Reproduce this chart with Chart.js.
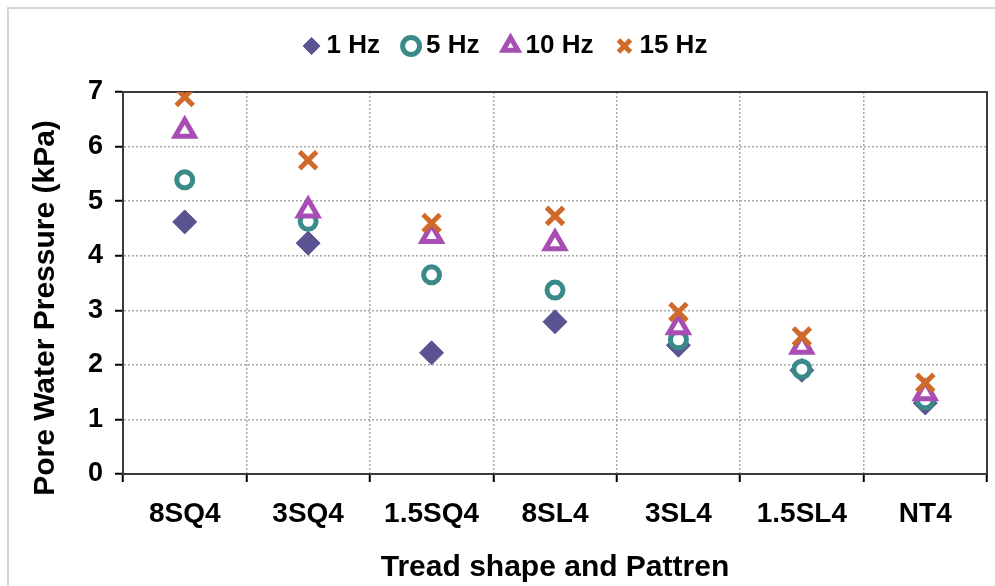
<!DOCTYPE html>
<html>
<head>
<meta charset="utf-8">
<title>Pore water pressure by tread pattern</title>
<script src="https://cdn.jsdelivr.net/npm/chart.js@4.4.0/dist/chart.umd.min.js"></script>
<style>
  html, body { margin: 0; padding: 0; background: #fff; }
  #wrap { position: relative; width: 995px; height: 586px; overflow: hidden; }
  #frame { position: absolute; left: 7px; top: 7px; width: 1000px; height: 600px;
           border-top: 2px solid #d6d6d6; border-left: 2px solid #d6d6d6; }
  canvas { position: absolute; left: 0; top: 0; }
</style>
</head>
<body>
<div id="wrap">
  <div id="frame"></div>
  <canvas id="pwpChart" width="995" height="586"></canvas>
</div>
<script>
// tread patterns along the x axis
var treads = ['8SQ4', '3SQ4', '1.5SQ4', '8SL4', '3SL4', '1.5SL4', 'NT4'];

// pore water pressure (kPa) per loading frequency
var pwp1Hz  = [4.62, 4.23, 2.22, 2.79, 2.36, 1.90, 1.30];
var pwp5Hz  = [5.39, 4.63, 3.65, 3.37, 2.46, 1.92, 1.36];
var pwp10Hz = [6.29, 4.83, 4.36, 4.23, 2.69, 2.33, 1.48];
var pwp15Hz = [6.91, 5.75, 4.60, 4.73, 2.97, 2.52, 1.67];

var yMin = 0, yMax = 7, yStep = 1;

var FONT = "'Liberation Sans', Arial, sans-serif";
Chart.defaults.font.family = FONT;
Chart.defaults.color = '#000';

// dark frame around the plot area
var plotFrame = {
    id: 'plotFrame',
    beforeDatasetsDraw: function (chart) {
        var a = chart.chartArea, ctx = chart.ctx;
        ctx.save();
        ctx.strokeStyle = '#3a3a3a';
        ctx.lineWidth = 2;
        ctx.strokeRect(a.left, a.top, a.right - a.left, a.bottom - a.top);
        ctx.restore();
    }
};

// leave a gap between the legend row and the plot
var legendGap = {
    id: 'legendGap',
    beforeLayout: function (chart) {
        var lg = chart.legend;
        if (lg && !lg._gapAdded) {
            var fit = lg.fit;
            lg.fit = function () {
                fit.call(this);
                this.height += 23;
            };
            lg._gapAdded = true;
        }
    }
};

function series(label, data, style, color, fill, radius, width, order) {
    return {
        label: label,
        data: data,
        showLine: false,
        pointStyle: style,
        pointRadius: radius,
        pointHoverRadius: radius,
        pointBorderWidth: width,
        borderWidth: width,
        borderColor: color,
        backgroundColor: fill,
        pointBackgroundColor: fill,
        pointBorderColor: color,
        order: order
    };
}

var ctx = document.getElementById('pwpChart');
var pwpChart = new Chart(ctx, {
    type: 'line',
    data: {
        labels: treads,
        datasets: [
            series('1 Hz', pwp1Hz, 'rectRot', '#5a5391', '#5a5391', 12, 1, 4),
            series('5 Hz', pwp5Hz, 'circle', '#3b8a8a', '#ffffff', 8, 5, 3),
            series('10 Hz', pwp10Hz, 'triangle', '#a84db4', '#ffffff', 11, 5, 2),
            series('15 Hz', pwp15Hz, 'crossRot', '#cf6a2a', '#cf6a2a', 12, 5, 1)
        ]
    },
    options: {
        responsive: false,
        animation: false,
        layout: { autoPadding: false, padding: { left: 30, right: 8, top: 4, bottom: 0 } },
        plugins: {
            tooltip: { enabled: false },
            legend: {
                position: 'top',
                labels: {
                    usePointStyle: true,
                    boxWidth: 4,
                    boxHeight: 12,
                    padding: 29,
                    color: '#000',
                    font: { size: 26, weight: 'bold', family: FONT },
                    sort: function (a, b) { return a.datasetIndex - b.datasetIndex; }
                }
            }
        },
        scales: {
            x: {
                type: 'category',
                offset: true,
                grid: {
                    offset: true,
                    color: '#a8a8a8',
                    lineWidth: 1.5,
                    tickLength: 8,
                    tickColor: '#000',
                    tickWidth: 2,
                    tickBorderDash: []
                },
                border: { color: '#000', width: 2, dash: [2, 2] },
                ticks: {
                    padding: 15,
                    color: '#000',
                    font: { size: 28, weight: 'bold', family: FONT }
                },
                title: {
                    display: true,
                    text: 'Tread shape and Pattren',
                    color: '#000',
                    padding: { top: 13, bottom: 0 },
                    font: { size: 30, weight: 'bold', family: FONT }
                },
                afterFit: function (scale) { scale.height = 112; }
            },
            y: {
                min: yMin,
                max: yMax,
                grid: {
                    color: '#a8a8a8',
                    lineWidth: 1.5,
                    tickLength: 8,
                    tickColor: '#000',
                    tickWidth: 2,
                    tickBorderDash: []
                },
                border: { color: '#000', width: 2, dash: [2, 2] },
                ticks: {
                    stepSize: yStep,
                    padding: 12,
                    color: '#000',
                    font: { size: 27, weight: 'bold', family: FONT }
                },
                title: {
                    display: true,
                    // trailing spaces push the caption toward the lower end of the axis
                    text: 'Pore Water Pressure (kPa)      ',
                    color: '#000',
                    padding: { top: 1, bottom: 0 },
                    font: { size: 30, weight: 'bold', family: FONT, lineHeight: 1 }
                },
                afterFit: function (scale) { scale.width = 93; }
            }
        }
    },
    plugins: [plotFrame, legendGap]
});
</script>
</body>
</html>
